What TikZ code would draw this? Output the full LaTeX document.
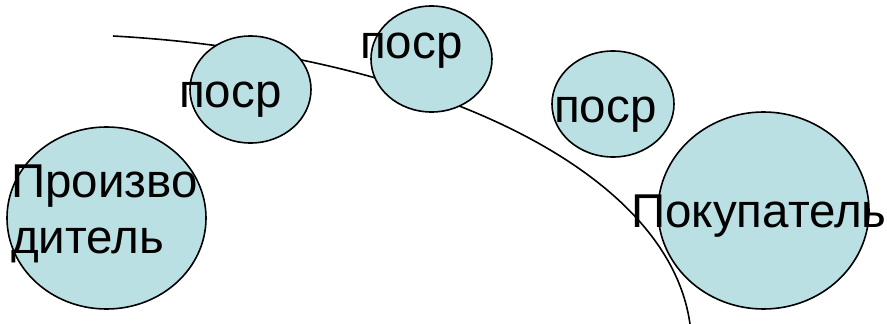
\documentclass[tikz,border=0pt]{standalone}
\usepackage{fontspec}
\setmainfont{Liberation Sans}
\usetikzlibrary{shapes.geometric}
\definecolor{bubble}{RGB}{187,224,227}
\tikzset{
  bub/.style={ellipse, draw=black, line width=1.6pt, fill=bubble, inner sep=0pt},
  lbl/.style={inner sep=0pt, anchor=base west, font=\fontsize{47.5}{56}\selectfont, text=black},
  curveline/.style={draw=black, line width=1.6pt}
}
\begin{document}
\begin{tikzpicture}[x=1pt, y=-1pt]
\useasboundingbox (0,0) rectangle (887,324);
% buyer bubble lies under the curve
\node[bub, minimum width=211pt, minimum height=197pt] (c5) at (763.5,210.5) {};
% the arc
\coordinate (s) at (113,36);
\coordinate (k1) at (413,52.5);
\coordinate (k2) at (667.6,164);
\coordinate (e) at (690,324);
\draw[curveline] (s) .. controls (k1) and (k2) .. (e);
% other bubbles
\node[bub, minimum width=199pt, minimum height=182pt] (c1) at (106.5,218) {};
\node[bub, minimum width=121pt, minimum height=107pt] (c2) at (250.5,89.5) {};
\node[bub, minimum width=121pt, minimum height=106pt] (c3) at (431.5,59) {};
\node[bub, minimum width=122pt, minimum height=106pt] (c4) at (613,104) {};
% labels
\node[lbl, align=left] (t1) at (11,253) {Произво\\дитель};
\node[lbl] (t2) at (179,107) {поср};
\node[lbl] (t3) at (360,58) {поср};
\node[lbl] (t4) at (554,122) {поср};
\node[lbl] (t5) at (631,227) {Покупатель};
\end{tikzpicture}
\end{document}
